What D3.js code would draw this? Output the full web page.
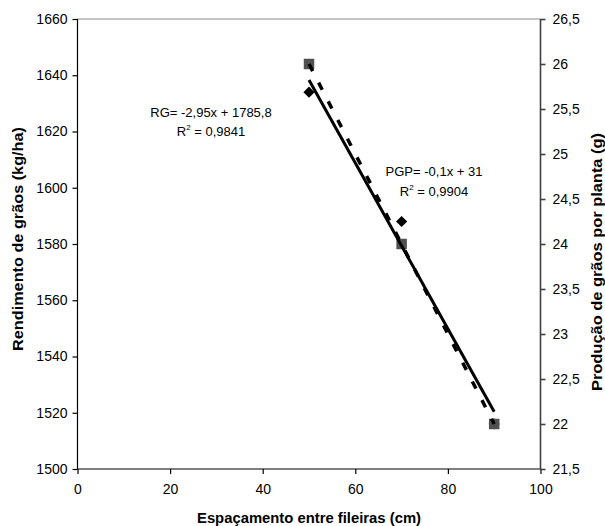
<!DOCTYPE html>
<html><head><meta charset="utf-8">
<script src="https://cdn.jsdelivr.net/npm/d3@7"></script>
<style>body{margin:0;background:#fff}svg{display:block;font-family:"Liberation Sans",Arial,sans-serif}</style>
</head><body><svg id="c" width="605" height="526"></svg>
<script>
const spacing = [50, 70, 90];
const rgValues = [1634, 1588, 1516];
const pgpValues = [26, 24, 22];
const xTicks = [0, 20, 40, 60, 80, 100];
const yLeftTicks = [1500, 1520, 1540, 1560, 1580, 1600, 1620, 1640, 1660];
const yRightTicks = [21.5, 22, 22.5, 23, 23.5, 24, 24.5, 25, 25.5, 26, 26.5];
const rgLabel = ["RG= -2,95x + 1785,8", "0,9841"];
const pgpLabel = ["PGP= -0,1x + 31", "0,9904"];
const xTitle = "Espaçamento entre fileiras (cm)";
const yLeftTitle = "Rendimento de grãos (kg/ha)";
const yRightTitle = "Produção de grãos por planta (g)";

const svg = d3.select("#c");
const m = {l: 77.5, r: 540.5, t: 19, b: 469};
const x = d3.scaleLinear().domain([0, 100]).range([m.l, m.r]);
const yL = d3.scaleLinear().domain([1500, 1660]).range([m.b, m.t]);
const yR = d3.scaleLinear().domain([21.5, 26.5]).range([m.b, m.t]);
const fmt = d => String(d).replace(".", ",");

function fit(xs, ys) {
  const n = xs.length, mx = d3.mean(xs), my = d3.mean(ys);
  let sxy = 0, sxx = 0;
  for (let i = 0; i < n; i++) { sxy += (xs[i]-mx)*(ys[i]-my); sxx += (xs[i]-mx)**2; }
  const b = sxy/sxx; return {b, a: my - b*mx};
}

// top border
svg.append("line").attr("x1", m.l).attr("x2", m.r).attr("y1", m.t).attr("y2", m.t)
  .attr("stroke", "#8c8c8c").attr("stroke-width", 1);

const ax = svg.append("g").attr("transform", `translate(0,${m.b})`)
  .call(d3.axisBottom(x).tickValues(xTicks).tickSize(5).tickPadding(10).tickFormat(fmt));
const al = svg.append("g").attr("transform", `translate(${m.l},0)`)
  .call(d3.axisLeft(yL).tickValues(yLeftTicks).tickSize(5).tickPadding(5).tickFormat(fmt));
const ar = svg.append("g").attr("transform", `translate(${m.r},0)`)
  .call(d3.axisRight(yR).tickValues(yRightTicks).tickSize(5).tickPadding(7).tickFormat(fmt));
[ax, al, ar].forEach(g => {
  g.selectAll("text").attr("font-size", 14).attr("font-family", '"Liberation Sans",Arial,sans-serif').attr("fill", "#000");
});
ax.selectAll("path,line").attr("stroke", "#000").attr("stroke-width", 1.2);
al.selectAll("path,line").attr("stroke", "#000").attr("stroke-width", 1.2);
ar.selectAll("path,line").attr("stroke", "#404040").attr("stroke-width", 1.6);
ax.select(".domain").attr("d", `M${m.l},0H${m.r}`);
al.select(".domain").attr("d", `M0,${m.t}V${m.b}`);
ar.select(".domain").attr("d", `M0,${m.t}V${m.b}`);

// titles
svg.append("text").attr("x", 309).attr("y", 523).attr("text-anchor", "middle")
  .attr("font-size", 14.5).attr("font-weight", "bold")
  .attr("textLength", 224).attr("lengthAdjust", "spacingAndGlyphs").text(xTitle);
svg.append("text").attr("transform", "translate(23,239) rotate(-90)").attr("text-anchor", "middle")
  .attr("font-size", 14.5).attr("font-weight", "bold")
  .attr("textLength", 224).attr("lengthAdjust", "spacingAndGlyphs").text(yLeftTitle);
svg.append("text").attr("transform", "translate(602,262) rotate(-90)").attr("text-anchor", "middle")
  .attr("font-size", 14.5).attr("font-weight", "bold")
  .attr("textLength", 258).attr("lengthAdjust", "spacingAndGlyphs").text(yRightTitle);

// markers: diamonds (RG), squares (PGP)
const ds = 5.6;
svg.append("g").selectAll("path").data(spacing.map((s,i)=>[s, rgValues[i]])).join("path")
  .attr("d", d => { const cx = x(d[0]), cy = yL(d[1]);
    return `M${cx},${cy-ds}L${cx+ds},${cy}L${cx},${cy+ds}L${cx-ds},${cy}Z`; })
  .attr("fill", "#000");
const sq = 10.5;
svg.append("g").selectAll("rect").data(spacing.map((s,i)=>[s, pgpValues[i]])).join("rect")
  .attr("x", d => x(d[0]) - sq/2).attr("y", d => yR(d[1]) - sq/2)
  .attr("width", sq).attr("height", sq).attr("fill", "#505050");

// trendlines
const fr = fit(spacing, rgValues), fp = fit(spacing, pgpValues);
const x0 = d3.min(spacing), x1 = d3.max(spacing);
svg.append("line").attr("x1", x(x0)).attr("y1", yL(fr.a + fr.b*x0))
  .attr("x2", x(x1)).attr("y2", yL(fr.a + fr.b*x1))
  .attr("stroke", "#000").attr("stroke-width", 3);
svg.append("line").attr("x1", x(x0)).attr("y1", yR(fp.a + fp.b*x0))
  .attr("x2", x(x1)).attr("y2", yR(fp.a + fp.b*x1))
  .attr("stroke", "#000").attr("stroke-width", 3.5).attr("stroke-dasharray", "8,13");

// equation labels
function eq(cx, y1, lines) {
  svg.append("text").attr("x", cx).attr("y", y1).attr("text-anchor", "middle")
    .attr("font-size", 13).text(lines[0]);
  const t = svg.append("text").attr("x", cx).attr("y", y1 + 19.5).attr("text-anchor", "middle")
    .attr("font-size", 13);
  t.append("tspan").text("R");
  t.append("tspan").attr("font-size", 8).attr("dy", -6).text("2");
  t.append("tspan").attr("dy", 6).text(" = " + lines[1]);
}
eq(211, 116.5, rgLabel);
eq(434, 176, pgpLabel);
</script></body></html>
